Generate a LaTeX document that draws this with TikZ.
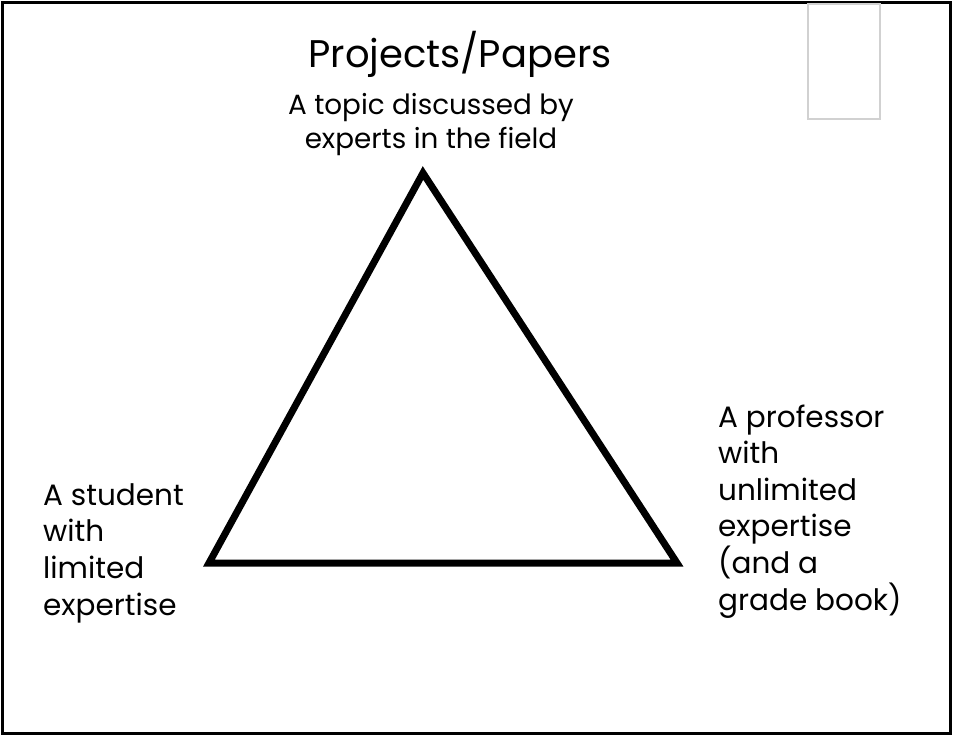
\documentclass[tikz,border=0pt]{standalone}
\usepackage{fontspec}
\setmainfont{Poppins}
\usepackage{tikz}
\usetikzlibrary{positioning}
\tikzset{
    label text/.style={anchor=north west,align=left,inner sep=0pt,font=\fontsize{29.5}{36.6}\selectfont},
    side/.style={line width=7pt,line join=miter}
    }

\begin{document}
\begin{tikzpicture}[line cap=rect,x=1pt,y=-1pt]
\useasboundingbox (0,0) rectangle (953,736);
\draw[line width=3pt] (2.5,2.5) rectangle (950.5,733.5);
\draw[color=black!18,line width=1.2pt] (808,4) rectangle (880,119);
% corners of the triangle
\coordinate (apex) at (423,173);
\coordinate (lcorner) at (209,563);
\coordinate (rcorner) at (677,563);
\draw[side] (apex) -- (rcorner) -- (lcorner) -- cycle;
% texts (base = baseline of the last line)
\node[font=\fontsize{38.5}{44}\selectfont,inner sep=0pt,anchor=base] (title) at (460,67) {Projects/Papers};
\node[font=\fontsize{27.8}{34}\selectfont,inner sep=0pt,anchor=base,align=center] (topic) at (431,148) {A topic discussed by\\experts in the field};
\node[label text,anchor=base west] (student) at (43,615) {A student\\with\\limited\\expertise};
\node[label text,anchor=base west] (professor) at (718,610) {A professor\\with\\unlimited\\expertise\\(and a\\grade book)};
\end{tikzpicture}
\end{document}
